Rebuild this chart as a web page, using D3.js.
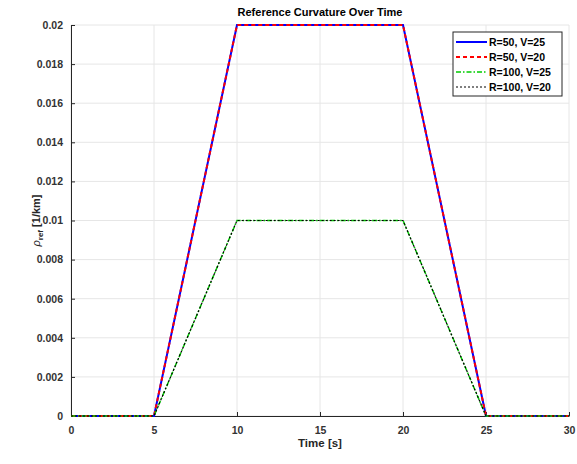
<!DOCTYPE html>
<html>
<head>
<meta charset="utf-8">
<script src="https://cdn.jsdelivr.net/npm/d3@7"></script>
<style>
  body { margin: 0; background: #fff; }
  text { font-family: "Liberation Sans", Arial, sans-serif; }
</style>
</head>
<body>
<div id="chart"></div>
<script>
const w = 577;
const h = 464;
const margin = { left: 71, right: 8, top: 25, bottom: 48 };

// time breakpoints [s]
const times = [0, 5, 10, 20, 25, 30];
// curvature values at breakpoints [1/km]
const rhoR50V25 = [0, 0, 0.02, 0.02, 0, 0];
const rhoR50V20 = [0, 0, 0.02, 0.02, 0, 0];
const rhoR100V25 = [0, 0, 0.01, 0.01, 0, 0];
const rhoR100V20 = [0, 0, 0.01, 0.01, 0, 0];

const seriesNames = ['R=50, V=25', 'R=50, V=20', 'R=100, V=25', 'R=100, V=20'];
const xTicks = [0, 5, 10, 15, 20, 25, 30];
const yTicks = [0, 0.002, 0.004, 0.006, 0.008, 0.01, 0.012, 0.014, 0.016, 0.018, 0.02];

const styles = [
  { color: '#0000ff', dash: null, width: 2 },
  { color: '#ff0000', dash: '4,3', width: 2 },
  { color: '#00cc00', dash: '5,2,1.5,2', width: 1.5 },
  { color: '#000000', dash: '2,2', width: 1.2 }
];

const series = [rhoR50V25, rhoR50V20, rhoR100V25, rhoR100V20].map((vals, i) => ({
  name: seriesNames[i],
  style: styles[i],
  points: times.map((t, j) => [t, vals[j]])
}));

const svg = d3.select('#chart')
  .append('svg')
  .attr('width', w)
  .attr('height', h);

const xScale = d3.scaleLinear()
  .domain([0, 30])
  .range([margin.left, w - margin.right]);

const yScale = d3.scaleLinear()
  .domain([0, 0.02])
  .range([h - margin.bottom, margin.top]);

// grid
svg.append('g')
  .selectAll('line')
  .data(xTicks)
  .enter()
  .append('line')
  .attr('x1', d => xScale(d)).attr('x2', d => xScale(d))
  .attr('y1', yScale(0)).attr('y2', yScale(0.02))
  .attr('stroke', '#e6e6e6').attr('stroke-width', 1);

svg.append('g')
  .selectAll('line')
  .data(yTicks)
  .enter()
  .append('line')
  .attr('x1', xScale(0)).attr('x2', xScale(30))
  .attr('y1', d => yScale(d)).attr('y2', d => yScale(d))
  .attr('stroke', '#e6e6e6').attr('stroke-width', 1);

// axes
const xAxis = d3.axisBottom(xScale)
  .tickValues(xTicks)
  .tickSizeInner(-4)
  .tickSizeOuter(0)
  .tickPadding(11)
  .tickFormat(d3.format('d'));

const yAxis = d3.axisLeft(yScale)
  .tickValues(yTicks)
  .tickSizeInner(-4)
  .tickSizeOuter(0)
  .tickPadding(8)
  .tickFormat(d => d === 0 ? '0' : String(+d.toFixed(3)));

const gx = svg.append('g')
  .attr('transform', 'translate(0,' + yScale(0) + ')')
  .call(xAxis);

const gy = svg.append('g')
  .attr('transform', 'translate(' + xScale(0) + ',0)')
  .call(yAxis);

[gx, gy].forEach(g => {
  g.select('.domain').attr('stroke', '#262626').attr('stroke-width', 1);
  g.selectAll('.tick line').attr('stroke', '#262626');
  g.selectAll('.tick text')
    .attr('fill', '#333')
    .attr('font-size', '10.5px')
    .attr('font-weight', 'bold')
    .attr('font-family', '"Liberation Sans", Arial, sans-serif');
});

// lines
const line = d3.line()
  .x(d => xScale(d[0]))
  .y(d => yScale(d[1]));

svg.append('g')
  .selectAll('path')
  .data(series)
  .enter()
  .append('path')
  .attr('d', d => line(d.points))
  .attr('fill', 'none')
  .attr('stroke', d => d.style.color)
  .attr('stroke-width', d => d.style.width)
  .attr('stroke-dasharray', d => d.style.dash);

// title
svg.append('text')
  .attr('x', (xScale(0) + xScale(30)) / 2)
  .attr('y', 16)
  .attr('text-anchor', 'middle')
  .attr('font-size', '11px')
  .attr('font-weight', 'bold')
  .attr('fill', '#000')
  .text('Reference Curvature Over Time');

// x label
svg.append('text')
  .attr('x', (xScale(0) + xScale(30)) / 2)
  .attr('y', 447)
  .attr('text-anchor', 'middle')
  .attr('font-size', '11.5px')
  .attr('font-weight', 'bold')
  .attr('fill', '#262626')
  .text('Time [s]');

// y label
const ylab = svg.append('text')
  .attr('transform', 'translate(40,' + yScale(0.01) + ') rotate(-90)')
  .attr('text-anchor', 'middle')
  .attr('font-size', '11px')
  .attr('font-weight', 'bold')
  .attr('fill', '#262626');
ylab.append('tspan').attr('font-style', 'italic').attr('font-weight', 'normal').text('\u03c1');
ylab.append('tspan').attr('font-size', '8px').attr('dy', 3).text('ref');
ylab.append('tspan').attr('dy', -3).text(' [1/km]');

// legend
const legend = svg.append('g').attr('transform', 'translate(453,32)');
legend.append('rect')
  .attr('width', 109).attr('height', 64)
  .attr('fill', '#fff').attr('stroke', '#262626').attr('stroke-width', 1);

const items = legend.selectAll('g.item')
  .data(series)
  .enter()
  .append('g')
  .attr('transform', (d, i) => 'translate(0,' + (10 + i * 15) + ')');

items.append('line')
  .attr('x1', 3).attr('x2', 34)
  .attr('stroke', d => d.style.color)
  .attr('stroke-width', d => d.style.width)
  .attr('stroke-dasharray', d => d.style.dash);

items.append('text')
  .attr('x', 36).attr('y', 4)
  .attr('font-size', '10.5px')
  .attr('font-weight', 'bold')
  .attr('fill', '#000')
  .text(d => d.name);
</script>
</body>
</html>
